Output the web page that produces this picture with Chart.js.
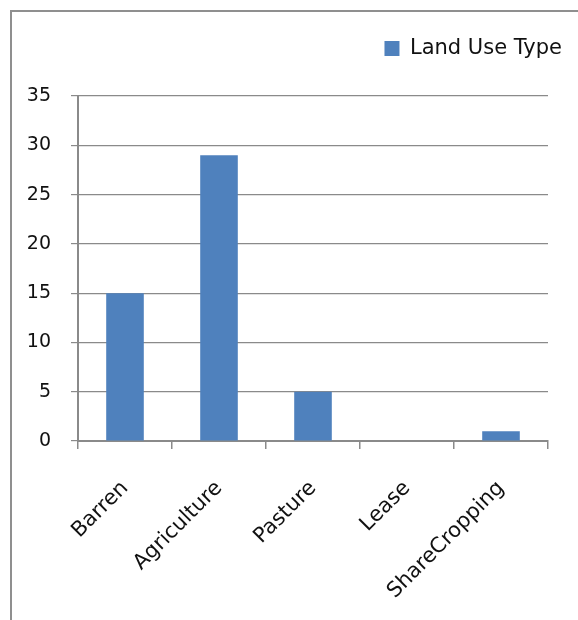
<!DOCTYPE html>
<html>
<head>
<meta charset="utf-8">
<title>Land Use Type</title>
<script src="https://cdn.jsdelivr.net/npm/chart.js@4.4.0/dist/chart.umd.min.js"></script>
<style>
  html, body { margin: 0; padding: 0; background: #fff; }
</style>
</head>
<body>
<canvas id="landChart" width="578" height="620"></canvas>
<script>
// survey counts per land use category
const landTypes = ['Barren', 'Agriculture', 'Pasture', 'Lease', 'ShareCropping']
const landCounts = [15, 29, 5, 0, 1]
const seriesName = 'Land Use Type'
const yMax = 35
const yStep = 5

const lineGray = '#8a8a8a'
const textColor = '#111'
const catFont = { family: 'DejaVu Sans', size: 21 }
const valueFont = { family: 'DejaVu Sans', size: 19 }

// grey frame round the whole chart, like the spreadsheet chart object
const framePlugin = {
  id: 'frame',
  beforeDraw(chart) {
    const ctx = chart.ctx
    ctx.save()
    ctx.strokeStyle = '#8f8f8f'
    ctx.lineWidth = 2
    ctx.strokeRect(11, 11, chart.width + 20, chart.height + 20)
    ctx.restore()
  }
}

// the legend sits up in the corner, well above the plot
const legendSpot = {
  id: 'legendSpot',
  afterLayout(chart) {
    const lg = chart.legend
    const h = lg.bottom - lg.top
    lg.top = 28
    lg.bottom = 28 + h
  }
}

new Chart(document.getElementById('landChart'), {
  type: 'bar',
  data: {
    labels: landTypes,
    datasets: [{
      label: seriesName,
      data: landCounts,
      backgroundColor: '#4f81bd',
      borderWidth: 0,
      barPercentage: 0.4,
      categoryPercentage: 1.0
    }]
  },
  options: {
    responsive: false,
    animation: false,
    layout: { padding: { top: 20, left: 20, right: 6, bottom: 0 } },
    plugins: {
      legend: {
        position: 'top',
        align: 'end',
        labels: { boxWidth: 15, boxHeight: 15, padding: 10, color: textColor, font: catFont }
      },
      tooltip: { enabled: false }
    },
    scales: {
      x: {
        grid: { offset: true, drawOnChartArea: false, drawTicks: true, tickLength: 8, color: lineGray, lineWidth: 1.5 },
        border: { color: lineGray, width: 2 },
        ticks: { minRotation: 45, maxRotation: 45, padding: 27, color: textColor, font: catFont },
        afterFit(scale) {
          scale.height = 620 - 441
          scale.paddingLeft = 0
          scale.paddingRight = 30
        }
      },
      y: {
        min: 0,
        max: yMax,
        ticks: { stepSize: yStep, padding: 20, color: textColor, font: valueFont },
        grid: { color: lineGray, lineWidth: 1.2, tickLength: 7 },
        border: { color: lineGray, width: 2 },
        afterFit(scale) {
          scale.width = 78 - 20
          scale.paddingTop = 96
        }
      }
    }
  },
  plugins: [framePlugin, legendSpot]
})
</script>
</body>
</html>
